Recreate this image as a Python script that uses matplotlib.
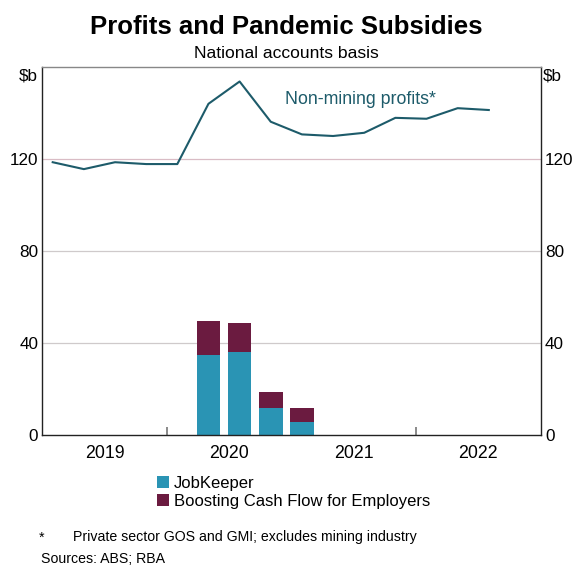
import numpy as np
import matplotlib.pyplot as plt
from matplotlib.patches import Patch

plt.rcParams['font.family'] = ['Liberation Sans', 'DejaVu Sans']

# quarterly data, dated at the middle month of each quarter
profit_quarters = ['2019Q1', '2019Q2', '2019Q3', '2019Q4',
                   '2020Q1', '2020Q2', '2020Q3', '2020Q4',
                   '2021Q1', '2021Q2', '2021Q3', '2021Q4',
                   '2022Q1', '2022Q2', '2022Q3']
non_mining_profits = [118.6, 115.6, 118.6, 117.8, 117.8, 144.0, 153.7, 136.2,
                      130.7, 130.0, 131.4, 137.9, 137.5, 142.1, 141.3]

subsidy_quarters = ['2020Q2', '2020Q3', '2020Q4', '2021Q1']
jobkeeper = [34.6, 35.9, 11.6, 5.5]
cash_flow_boost = [15.1, 12.8, 6.9, 6.1]

years = [2019, 2020, 2021, 2022]
yticks = [0, 40, 80, 120]


def quarter_to_year(q):
    # middle month of the quarter (Feb, May, Aug, Nov) as a decimal year
    yr, qn = int(q[:4]), int(q[-1])
    return yr + (3 * qn - 2) / 12


x_profit = np.array([quarter_to_year(q) for q in profit_quarters])
x_sub = np.array([quarter_to_year(q) for q in subsidy_quarters])

line_col = '#1d5b6a'
jk_col = '#2a94b4'
bcf_col = '#6b1b40'

fig = plt.figure(figsize=(5.72, 5.65), dpi=100)
ax = fig.add_axes([0.074, 0.2301, 0.8713, 0.6513])

ax.set_xlim(2019, 2023)
ax.set_ylim(0, 160)

# gridlines
for t in yticks[1:]:
    ax.axhline(t, color='#d9bcc5' if t == 120 else '#cfcacb', lw=0.9, zorder=0)

ax.bar(x_sub, jobkeeper, width=0.19, color=jk_col, zorder=2)
ax.bar(x_sub, cash_flow_boost, width=0.19, bottom=jobkeeper, color=bcf_col, zorder=2)
ax.plot(x_profit, non_mining_profits, color=line_col, lw=1.5, zorder=3)

ax.text(2020.95, 146, 'Non-mining profits*', color=line_col, fontsize=12.8,
        ha='left', va='center')

# axes frame
for side in ['left', 'right', 'bottom']:
    ax.spines[side].set_color('#222222')
    ax.spines[side].set_linewidth(1.0)
ax.spines['top'].set_color('#888888')
ax.spines['top'].set_linewidth(1.0)

ax.set_yticks(yticks)
ax.set_yticklabels([str(t) for t in yticks])
ax.tick_params(axis='y', length=0, labelsize=12.3, pad=3,
               labelleft=True, labelright=True)

ax.set_xticks(years[1:])
ax.set_xticklabels([])
ax.tick_params(axis='x', which='major', direction='in', length=6,
               color='#777777', width=1.2)
ax.set_xticks([y + 0.5 for y in years], minor=True)
ax.set_xticklabels([str(y) for y in years], minor=True)
ax.tick_params(axis='x', which='minor', length=0, labelsize=12.8, pad=7)

ax.text(-0.009, 0.975, '$b', transform=ax.transAxes, ha='right', va='center',
        fontsize=12.3)
ax.text(1.005, 0.975, '$b', transform=ax.transAxes, ha='left', va='center',
        fontsize=12.3)

fig.text(0.5, 0.953, 'Profits and Pandemic Subsidies', ha='center', va='center',
         fontsize=18.5, fontweight='bold')
fig.text(0.5, 0.906, 'National accounts basis', ha='center', va='center',
         fontsize=12.6)

handles = [Patch(facecolor=jk_col, label='JobKeeper'),
           Patch(facecolor=bcf_col, label='Boosting Cash Flow for Employers')]
fig.legend(handles=handles, loc='upper left', bbox_to_anchor=(0.262, 0.17),
           frameon=False, fontsize=12, handlelength=0.75, handleheight=0.75,
           handletextpad=0.3, labelspacing=0.2, borderaxespad=0)

fig.text(0.068, 0.049, '*', ha='left', va='center', fontsize=10.2)
fig.text(0.127, 0.049, 'Private sector GOS and GMI; excludes mining industry',
         ha='left', va='center', fontsize=10.2)
fig.text(0.071, 0.010, 'Sources: ABS; RBA', ha='left', va='center', fontsize=10.2)

fig.savefig('out.png', dpi=100)
